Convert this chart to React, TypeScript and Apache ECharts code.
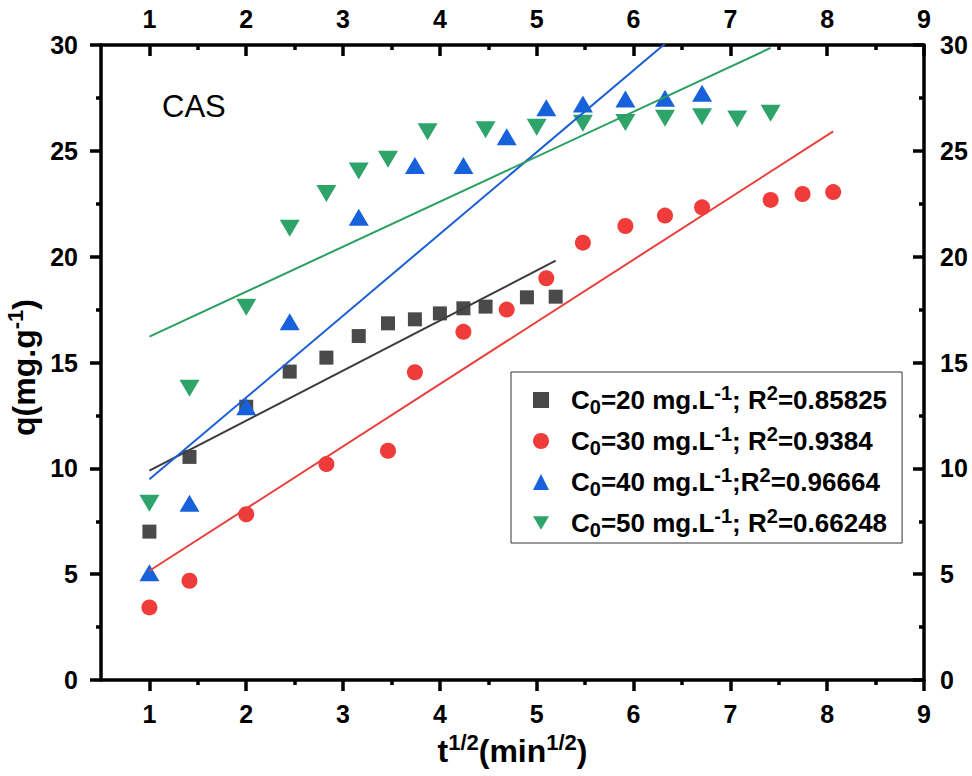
import React, { useEffect, useRef } from 'react';
import * as echarts from 'echarts';

const FONT = "'Liberation Sans', Arial, Helvetica, sans-serif";

// ---- tick labels ----
const xTickValues = [1, 2, 3, 4, 5, 6, 7, 8, 9];
const xMinorTickValues = [1.5, 2.5, 3.5, 4.5, 5.5, 6.5, 7.5, 8.5];

// ---- data (t^1/2 , q) ----
const x20 = [1, 1.414, 2, 2.449, 2.828, 3.162, 3.464, 3.742, 4, 4.243, 4.472, 4.899, 5.196];
const q20 = [7.01, 10.54, 12.91, 14.57, 15.23, 16.25, 16.85, 17.04, 17.32, 17.56, 17.64, 18.08, 18.11];

const x30 = [1, 1.414, 2, 2.828, 3.464, 3.742, 4.243, 4.69, 5.099, 5.477, 5.916, 6.325, 6.708, 7.416, 7.746, 8.062];
const q30 = [3.43, 4.69, 7.83, 10.2, 10.83, 14.54, 16.45, 17.5, 18.98, 20.66, 21.45, 21.94, 22.33, 22.68, 22.96, 23.05];

const x40 = [1, 1.414, 2, 2.449, 3.162, 3.742, 4.243, 4.69, 5.099, 5.477, 5.916, 6.325, 6.708];
const q40 = [5.07, 8.35, 12.91, 16.93, 21.86, 24.31, 24.31, 25.67, 27.04, 27.21, 27.45, 27.48, 27.72];

const x50 = [1, 1.414, 2, 2.449, 2.828, 3.162, 3.464, 3.873, 4.472, 5, 5.477, 5.916, 6.325, 6.708, 7.071, 7.416];
const q50 = [8.35, 13.78, 17.61, 21.34, 22.99, 24.05, 24.6, 25.9, 26.0, 26.11, 26.3, 26.34, 26.54, 26.61, 26.5, 26.77];

// ---- linear fits (endpoints) ----
const fit20 = [[1, 9.89], [5.196, 19.81]];
const fit30 = [[1, 5.16], [8.062, 25.92]];
const fit40 = [[1, 9.48], [6.708, 31.54]];
const fit50 = [[1, 16.22], [7.416, 29.86]];

// ---- legend texts ----
const concentrations = ['20', '30', '40', '50'];
const separators = ['; ', '; ', ';', '; '];
const r2Values = ['0.85825', '0.9384', '0.96664', '0.66248'];
const seriesNames = concentrations.map((c, i) => `C0=${c} mg.L-1${separators[i]}R2=${r2Values[i]}`);

const markerColors = ['#4a4a4a', '#f03b3b', '#1762db', '#2ea36a'];
const lineColors = ['#3d3d3d', '#e8403d', '#1a5fd3', '#2b9f60'];

const pairs = (xs: number[], ys: number[]) => xs.map((x, i) => [x, ys[i]]);

export default function App() {
  const ref = useRef<HTMLDivElement>(null);

  useEffect(() => {
    document.body.style.margin = '0';
    if (!ref.current) return;
    const chart = echarts.init(ref.current, undefined, { renderer: 'svg' });

    const lineStyle = { color: '#000', width: 3.5 };
    const labelStyle = { color: '#000', fontSize: 25, fontWeight: 'bold' as const, fontFamily: FONT };

    const xAxisBase = (position: 'top' | 'bottom', major: boolean) => ({
      type: 'value' as const,
      position,
      min: 0.5,
      max: 9,
      gridIndex: 0,
      axisLine: { show: major, onZero: false, lineStyle },
      axisTick: {
        show: true,
        inside: position === 'top',
        length: major ? 11 : 5,
        lineStyle,
        customValues: major ? xTickValues : xMinorTickValues,
      },
      axisLabel: major
        ? { show: true, ...labelStyle, margin: position === 'top' ? 14 : 21, customValues: xTickValues }
        : { show: false },
      splitLine: { show: false },
    });

    const yAxisBase = (position: 'left' | 'right') => ({
      type: 'value' as const,
      position,
      min: 0,
      max: 30,
      interval: 5,
      axisLine: { show: true, onZero: false, lineStyle },
      axisTick: { show: true, inside: position === 'right', length: 11, lineStyle },
      minorTick: { show: true, splitNumber: 2, length: 5, lineStyle },
      axisLabel: { show: true, ...labelStyle, margin: position === 'left' ? 23 : 16 },
      splitLine: { show: false },
      minorSplitLine: { show: false },
    });

    const richBase = (size: number, supSize: number, lh: number) => ({
      b: { fontSize: size, fontWeight: 'bold', fontFamily: FONT, color: '#000', lineHeight: lh, verticalAlign: 'middle' },
      sup: { fontSize: supSize, fontWeight: 'bold', fontFamily: FONT, color: '#000', lineHeight: supSize, verticalAlign: 'top' },
      sub: { fontSize: supSize, fontWeight: 'bold', fontFamily: FONT, color: '#000', lineHeight: supSize, verticalAlign: 'bottom' },
    });

    const scatterSymbols = [
      { symbol: 'rect', symbolSize: 14, symbolRotate: 0 },
      { symbol: 'circle', symbolSize: 16, symbolRotate: 0 },
      { symbol: 'triangle', symbolSize: [20, 17], symbolRotate: 0 },
      { symbol: 'triangle', symbolSize: [20, 17], symbolRotate: 180 },
    ];
    const legendIcons = ['rect', 'circle', 'triangle', 'path://M0,0 L20,0 L10,17 Z'];
    const scatterData = [pairs(x20, q20), pairs(x30, q30), pairs(x40, q40), pairs(x50, q50)];
    const fits = [fit20, fit30, fit40, fit50];

    const series: any[] = [];
    scatterData.forEach((d, i) => {
      series.push({
        name: seriesNames[i],
        type: 'scatter',
        xAxisIndex: 0,
        yAxisIndex: 0,
        data: d,
        ...scatterSymbols[i],
        itemStyle: { color: markerColors[i], opacity: 1 },
        z: 2,
      });
    });
    fits.forEach((f, i) => {
      series.push({
        name: 'fit' + i,
        type: 'line',
        xAxisIndex: 0,
        yAxisIndex: 0,
        data: f,
        showSymbol: false,
        symbol: 'none',
        clip: true,
        lineStyle: { color: lineColors[i], width: 2 },
        z: 3,
      });
    });

    chart.setOption({
      animation: false,
      backgroundColor: '#fff',
      grid: { left: 101, right: 48, top: 45, bottom: 96 },
      xAxis: [
        xAxisBase('bottom', true),
        xAxisBase('bottom', false),
        xAxisBase('top', true),
        xAxisBase('top', false),
      ],
      yAxis: [yAxisBase('left'), yAxisBase('right')],
      legend: {
        data: seriesNames.map((n, i) => ({ name: n, icon: legendIcons[i] })),
        orient: 'vertical',
        left: 511,
        top: 372,
        itemWidth: 16,
        itemHeight: 16,
        itemGap: 7,
        padding: [11, 15, 3, 22],
        borderColor: '#333',
        borderWidth: 1,
        backgroundColor: '#fff',
        selectedMode: false,
        formatter: (name: string) => {
          const i = seriesNames.indexOf(name);
          return `{sp| }{b|C}{sub|0}{b|=${concentrations[i]} mg.L}{sup|-1}{b|${separators[i]}R}{sup|2}{b|=${r2Values[i]}}`;
        },
        textStyle: {
          rich: { sp: { width: 17 }, ...richBase(26, 20, 34) },
        },
      },
      graphic: [
        {
          type: 'text',
          x: 162,
          y: 106,
          style: { text: 'CAS', fontSize: 31, fontFamily: FONT, fill: '#000', align: 'left', verticalAlign: 'middle' },
        },
        {
          type: 'text',
          x: 512.5,
          y: 751,
          style: {
            text: '{b|t}{sup|1/2}{b|(min}{sup|1/2}{b|)}',
            rich: richBase(32, 22, 40),
            align: 'center',
            verticalAlign: 'middle',
          },
        },
        {
          type: 'text',
          x: 24,
          y: 367.5,
          rotation: Math.PI / 2,
          style: {
            text: '{b|q(mg.g}{sup|-1}{b|)}',
            rich: richBase(32, 22, 40),
            align: 'center',
            verticalAlign: 'middle',
          },
        },
      ],
      series,
    });

    return () => chart.dispose();
  }, []);

  return <div ref={ref} style={{ width: 972, height: 776 }} />;
}
